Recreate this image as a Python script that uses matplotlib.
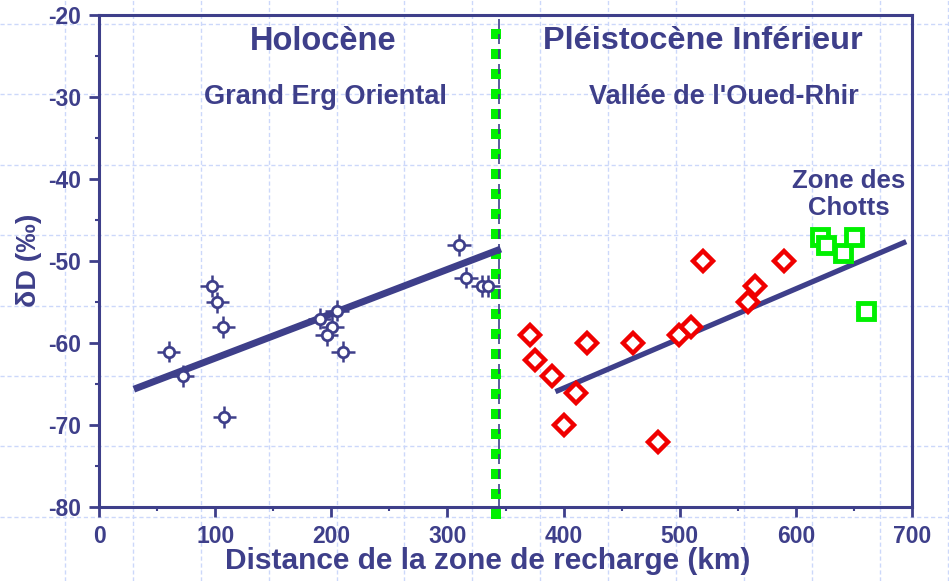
import matplotlib
matplotlib.use("Agg")
import matplotlib.pyplot as plt
import numpy as np

plt.rcParams['font.family'] = ['Liberation Sans', 'DejaVu Sans']
plt.rcParams['font.weight'] = 'bold'
plt.rcParams['axes.unicode_minus'] = False

NAVY = '#3E3F8A'
GREEN = '#00F000'
RED = '#F00000'

# Holocene (Grand Erg Oriental)
holo_x = [60, 72, 97, 102, 107, 108, 190, 205, 201, 196, 210, 310, 316, 330, 335]
holo_y = [-61, -64, -53, -55, -58, -69, -57, -56, -58, -59, -61, -48, -52, -53, -53]
holo_xerr = 10
holo_yerr = 1.3

# Pleistocene inferieur (Vallee de l'Oued-Rhir)
pleist_x = [371, 375, 390, 400, 411, 420, 460, 481, 499, 510, 520, 559, 565, 590]
pleist_y = [-59, -62, -64, -70, -66, -60, -60, -72, -59, -58, -50, -55, -53, -50]

# Zone des Chotts
chotts_x = [621, 626, 641, 650, 660]
chotts_y = [-47, -48, -49, -47, -56]

# regression lines
reg1_x = [30, 346]
reg1_y = [-65.6, -48.5]
reg2_x = [393, 695]
reg2_y = [-65.9, -47.6]

boundary_x = 342
xticks = [0, 100, 200, 300, 400, 500, 600, 700]
yticks = [-80, -70, -60, -50, -40, -30, -20]

W, H = 949, 581
fig = plt.figure(figsize=(W / 100, H / 100), dpi=100)

# background page grid (slide style)
bg = fig.add_axes([0, 0, 1, 1])
bg.set_xlim(0, W)
bg.set_ylim(H, 0)
bg.axis('off')
gx = 65.0
while gx < W:
    bg.axvline(gx, color='#CCD8FA', lw=1.0, ls=(0, (3, 2)))
    gx += 67.9
gy = 24.0
while gy < H:
    bg.axhline(gy, color='#CCD8FA', lw=1.0, ls=(0, (3, 2)))
    gy += 70.4

ax = fig.add_axes([99 / W, (H - 507.3) / H, (912 - 99) / W, (507.3 - 15.3) / H])
ax.patch.set_alpha(0)
ax.set_xlim(0, 700)
ax.set_ylim(-80, -20)

for s in ax.spines.values():
    s.set_color(NAVY)
    s.set_linewidth(2.2)

ax.set_xticks(xticks)
ax.set_yticks(yticks)
ax.set_xticks(np.arange(50, 700, 100), minor=True)
ax.set_yticks(np.arange(-75, -20, 10), minor=True)
ax.tick_params(which='major', direction='out', length=7, width=2, color=NAVY,
               labelsize=16.5, labelcolor=NAVY, pad=6)
ax.tick_params(which='minor', direction='out', length=3, width=1.5, color=NAVY)
for lab in ax.get_xticklabels() + ax.get_yticklabels():
    lab.set_fontweight('bold')

# boundary
ax.plot([boundary_x, boundary_x], [-21.7, -81.7], color=GREEN, lw=7.2,
        ls=(0, (1, 1)), solid_capstyle='butt', dash_capstyle='butt', clip_on=False, zorder=3)
ax.plot([boundary_x + 2.5, boundary_x + 2.5], [-20.5, -80.5], color=NAVY, lw=1.2,
        ls=(0, (6, 3)), clip_on=False, zorder=3.5)

# regression lines
ax.plot(reg1_x, reg1_y, color=NAVY, lw=5, solid_capstyle='butt', zorder=5)
ax.plot(reg2_x, reg2_y, color=NAVY, lw=3.8, solid_capstyle='butt', zorder=5)

# holocene points
ax.errorbar(holo_x, holo_y, xerr=holo_xerr, yerr=holo_yerr, fmt='o', ms=7.5,
            mfc='white', mec=NAVY, mew=2, ecolor=NAVY, elinewidth=1.8, capsize=0, zorder=6)

ax.plot(pleist_x, pleist_y, 'D', ms=10, mfc='white', mec=RED, mew=3.2, ls='none', zorder=6)
ax.plot(chotts_x, chotts_y, 's', ms=11, mfc='white', mec=GREEN, mew=3.5, ls='none', zorder=6)

# texts
def ftext(px, py, s, size, rot=0):
    fig.text(px / W, 1 - py / H, s, fontsize=size, fontweight='bold', color=NAVY,
             ha='center', va='center', rotation=rot)

ftext(488, 561, 'Distance de la zone de recharge (km)', 21.5)
ftext(29, 260, 'δD (‰)', 20.5, rot=90)
ftext(323, 41, 'Holocène', 23.5)
ftext(703, 41, 'Pléistocène Inférieur', 23.4)
ftext(325, 97, 'Grand Erg Oriental', 19.5)
ftext(724, 97, "Vallée de l'Oued-Rhir", 19.5)
ftext(849, 181, 'Zone des', 18.5)
ftext(849, 208, 'Chotts', 18.5)

fig.savefig('out.png', dpi=100)
